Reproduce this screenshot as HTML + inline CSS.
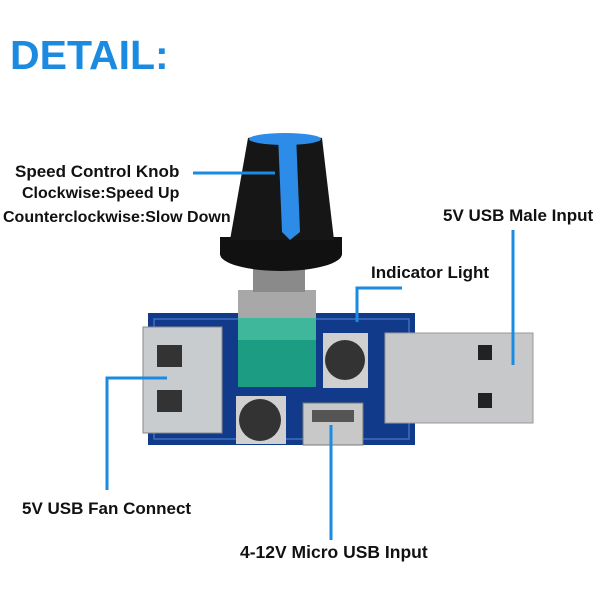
<!DOCTYPE html><html><head><style>
body{margin:0;width:600px;height:600px;background:#fff;position:relative;overflow:hidden;font-family:"Liberation Sans",sans-serif}
.t{position:absolute;font-weight:bold;color:#111;font-size:17px;white-space:nowrap}
</style></head><body>
<div class="t" style="left:10px;top:32px;font-size:41px;color:#1a8be0">DETAIL:</div>
<div class="t" style="left:15px;top:162px">Speed Control Knob</div>
<div class="t" style="left:22px;top:185px;font-size:16px">Clockwise:Speed Up</div>
<div class="t" style="left:3px;top:209px;font-size:16px">Counterclockwise:Slow Down</div>
<div class="t" style="left:443px;top:206px">5V USB Male Input</div>
<div class="t" style="left:371px;top:263px">Indicator Light</div>
<div class="t" style="left:22px;top:499px">5V USB Fan Connect</div>
<div class="t" style="left:240px;top:542px;font-size:17.5px">4-12V Micro USB Input</div>
<svg width="600" height="600" style="position:absolute;left:0;top:0">
<rect x="148" y="313" width="267" height="132" fill="#123a8a"/>
<rect x="154" y="319" width="255" height="120" fill="none" stroke="#3f6fc0" stroke-width="1.5"/>
<rect x="143" y="327" width="79" height="106" fill="#c9cccf" stroke="#888"/>
<rect x="157" y="345" width="25" height="22" fill="#333"/><rect x="157" y="390" width="25" height="22" fill="#333"/>
<rect x="385" y="333" width="148" height="90" fill="#c6c8ca" stroke="#999"/>
<rect x="478" y="345" width="14" height="15" fill="#222"/><rect x="478" y="393" width="14" height="15" fill="#222"/>
<rect x="323" y="333" width="45" height="55" fill="#d0d0d0"/><circle cx="345" cy="360" r="20" fill="#333"/>
<rect x="236" y="396" width="50" height="48" fill="#d0d0d0"/><circle cx="260" cy="420" r="21" fill="#333"/>
<rect x="303" y="403" width="60" height="42" fill="#c8c8c8" stroke="#777"/><rect x="312" y="410" width="42" height="12" fill="#555"/>
<rect x="238" y="290" width="78" height="28" fill="#a8a8a8"/>
<rect x="238" y="318" width="78" height="69" fill="#1c9c82"/>
<rect x="238" y="318" width="78" height="22" fill="#3eb79a"/>
<rect x="253" y="268" width="52" height="24" fill="#8a8a8a"/>
<ellipse cx="281" cy="254" rx="61" ry="17" fill="#111"/>
<rect x="220" y="237" width="122" height="18" fill="#111"/>
<path d="M248 138 Q284 130 322 138 L334 240 L230 240 Z" fill="#161616"/>
<path d="M278 134 L296 134 L300 232 L290 240 L282 232 Z" fill="#2c8ce8"/>
<ellipse cx="285" cy="139" rx="36" ry="6" fill="#2c8ce8"/>
<g stroke="#1a8be0" stroke-width="3" fill="none">
<path d="M193 173 H275"/>
<path d="M513 230 V365"/>
<path d="M402 288 H357 V322"/>
<path d="M107 490 V378 H167"/>
<path d="M331 425 V540"/>
</g>
</svg>
</body></html>
